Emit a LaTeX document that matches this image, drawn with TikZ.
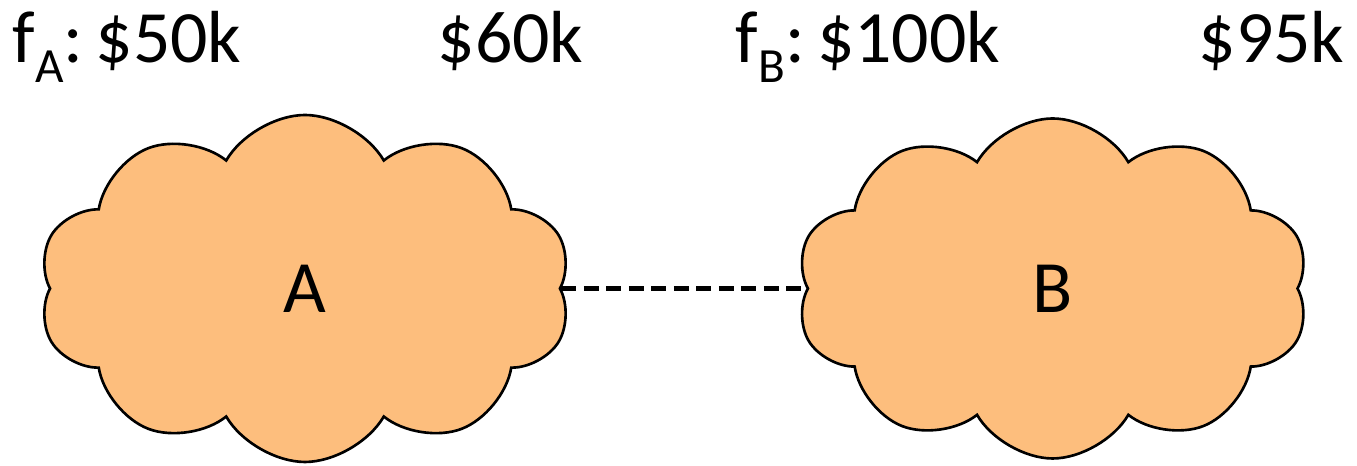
\documentclass[tikz,border=0pt]{standalone}
\usepackage{fontspec}
\setmainfont{Carlito}
\usetikzlibrary{positioning,shapes.symbols}
\definecolor{cloudOrange}{RGB}{253, 190, 125}
\newcommand{\lowsub}[1]{\raisebox{-0.26em}{\fontsize{14}{14}\selectfont #1}}

\begin{document}
\begin{tikzpicture}[
  region/.style={
    draw,
    cloud,
    cloud puffs=10,
    cloud puff arc=120,
    aspect=1.5,
    fill=cloudOrange,
    line width=0.75pt,
    inner sep=0pt,
    font=\fontsize{21}{25}\selectfont
  },
  price/.style={
    anchor=base west,
    inner sep=0pt,
    font=\fontsize{21}{25}\selectfont
  },
  link/.style={dash pattern=on 4.2pt off 2.2pt,line width=1.5pt}
]
  \useasboundingbox (0,0) rectangle (13.57,-4.66);
  \node[region,minimum width=5.33cm,minimum height=3.47cm] (regionA) at (3.05,-2.885) {A};
  \node[region,minimum width=5.13cm,minimum height=3.40cm,right=2.45cm of regionA] (regionB) {B};
  \node[price] (costA) at (0.12,-0.63) {f\lowsub{A}:\,\$50k};
  \node[price] (valueA) at (4.37,-0.63) {\$60k};
  \node[price] (costB) at (7.35,-0.63) {f\lowsub{B}:\,\$100k};
  \node[price] (valueB) at (11.98,-0.63) {\$95k};
  \draw[link] (regionA) -- (regionB);
\end{tikzpicture}
\end{document}
